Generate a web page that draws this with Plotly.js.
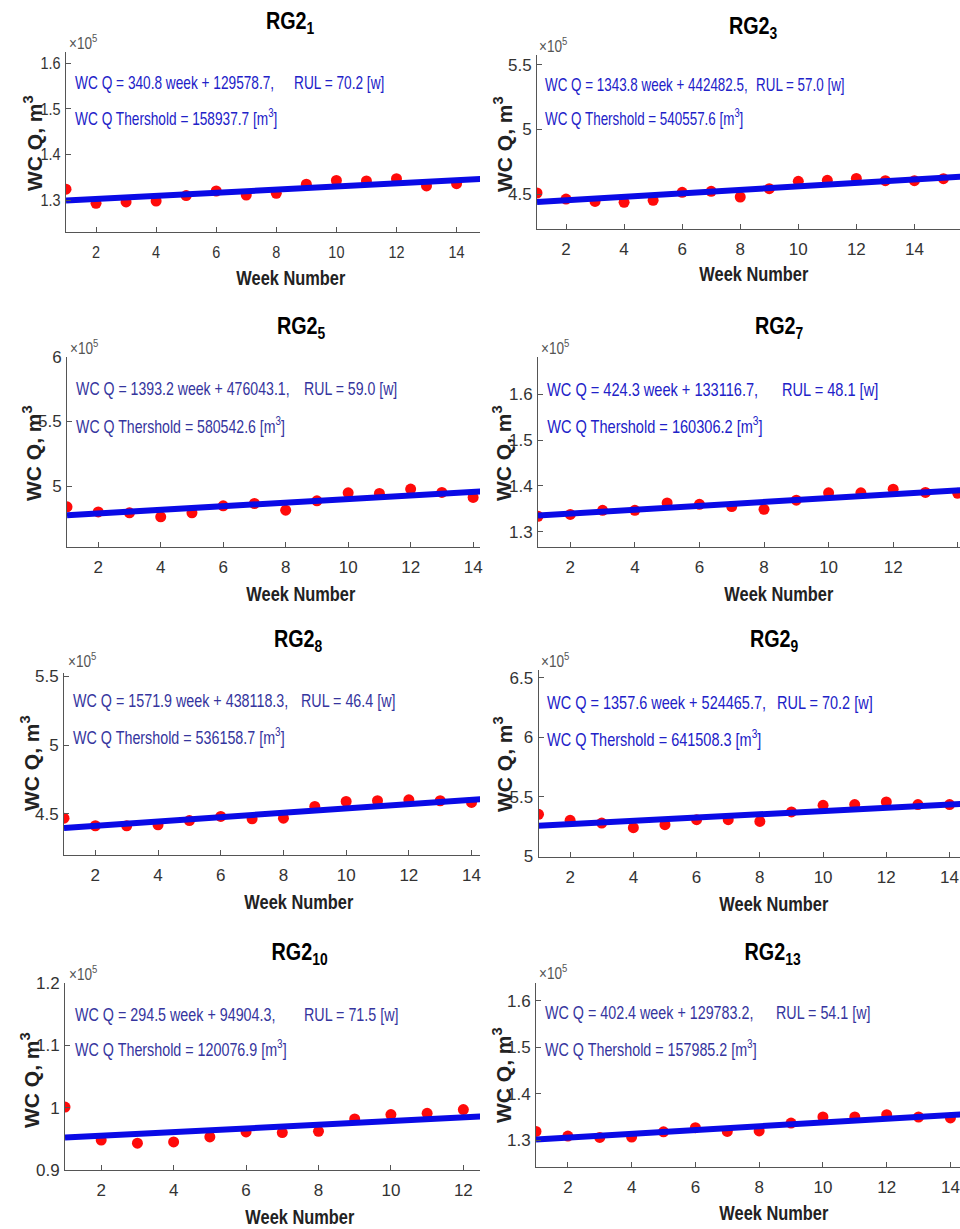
<!DOCTYPE html>
<html>
<head>
<meta charset="utf-8">
<script src="https://cdn.plot.ly/plotly-3.0.1.min.js"></script>
<style>html,body{margin:0;padding:0;background:#fff;}</style>
</head>
<body>
<div id="chart" style="width:960px;height:1229px;"></div>
<script>
// ---------------- DATA (values in units of 10^5 m^3) ----------------
const panelNames = ["1", "3", "5", "7", "8", "9", "10", "13"];
const weeks15 = [1,2,3,4,5,6,7,8,9,10,11,12,13,14,15];
const weeks14 = [1,2,3,4,5,6,7,8,9,10,11,12,13,14];
const weeks12 = [1,2,3,4,5,6,7,8,9,10,11,12];

const rg2_1  = [1.324,1.293,1.296,1.298,1.310,1.320,1.311,1.315,1.335,1.343,1.342,1.347,1.331,1.336];
const rg2_3  = [4.508,4.461,4.443,4.436,4.451,4.513,4.521,4.477,4.541,4.598,4.606,4.621,4.603,4.603,4.619];
const rg2_5  = [4.839,4.800,4.793,4.762,4.793,4.847,4.865,4.813,4.886,4.948,4.943,4.977,4.951,4.912];
const rg2_7  = [1.334,1.338,1.347,1.347,1.363,1.360,1.355,1.349,1.369,1.385,1.385,1.393,1.386,1.384];
const rg2_8  = [4.468,4.413,4.413,4.420,4.451,4.481,4.464,4.468,4.553,4.590,4.595,4.602,4.595,4.583];
const rg2_9  = [5.353,5.303,5.280,5.241,5.266,5.308,5.308,5.294,5.373,5.429,5.435,5.457,5.435,5.435];
const rg2_10 = [1.001,0.948,0.943,0.945,0.953,0.961,0.960,0.962,0.982,0.989,0.991,0.997];
const rg2_13 = [1.319,1.309,1.306,1.307,1.318,1.327,1.319,1.320,1.337,1.350,1.350,1.355,1.350,1.348];

// fitted trend lines: endpoints (week 1 and week 16)
const fitWeeks = [1, 16];
const fit_1  = [1.299195, 1.350315];
const fit_3  = [4.438263, 4.639833];
const fit_5  = [4.774363, 4.983343];
const fit_7  = [1.335410, 1.399055];
const fit_8  = [4.396902, 4.632687];
const fit_9  = [5.258233, 5.461873];
const fit_10 = [0.951988, 0.996163];
const fit_13 = [1.301856, 1.362216];

const eqTexts = [
  "WC Q = 340.8 week + 129578.7,",
  "WC Q = 1343.8 week + 442482.5,",
  "WC Q = 1393.2 week + 476043.1,",
  "WC Q = 424.3 week + 133116.7,",
  "WC Q = 1571.9 week + 438118.3,",
  "WC Q = 1357.6 week + 524465.7,",
  "WC Q = 294.5 week + 94904.3,",
  "WC Q = 402.4 week + 129783.2,"
];
const rulTexts = ["RUL = 70.2 [w]","RUL = 57.0 [w]","RUL = 59.0 [w]","RUL = 48.1 [w]",
                  "RUL = 46.4 [w]","RUL = 70.2 [w]","RUL = 71.5 [w]","RUL = 54.1 [w]"];
const thresholds = ["158937.7","540557.6","580542.6","160306.2","536158.7","641508.3","120076.9","157985.2"];

const seriesX = [weeks14, weeks15, weeks14, weeks14, weeks14, weeks14, weeks12, weeks14];
const seriesY = [rg2_1, rg2_3, rg2_5, rg2_7, rg2_8, rg2_9, rg2_10, rg2_13];
const fitsY   = [fit_1, fit_3, fit_5, fit_7, fit_8, fit_9, fit_10, fit_13];

// ---------------- LAYOUT (pixel geometry) ----------------
const W = 960, H = 1229;
const FONT = "'Liberation Sans', Arial, Helvetica, sans-serif";
const geo = [
  {l:66,  r:480, t:52,  b:232,  xr:[1,14.78], yr:[1.23,1.625],  dt:0.1, title:[290,23],  xt:[291,277],  yt:[33,143],   mult:[67,42],   eq:[72.7,83],   rul:[292,83],   th:[72.7,117],  col:"#2121c8", sq:0.76},
  {l:537, r:960, t:55,  b:229,  xr:[1,15.57], yr:[4.229,5.577], dt:0.5, title:[753,27],  xt:[754,273],  yt:[503,144],  mult:[537,45],  eq:[542.7,85],  rul:[754,85],   th:[542.7,117], col:"#2121c8", sq:0.745},
  {l:67,  r:480, t:357, b:547,  xr:[1,14.22], yr:[4.528,6.0],   dt:0.5, title:[301,327], xt:[301,593],  yt:[32,453],   mult:[68,347],  eq:[74,389],    rul:[301.7,389],th:[74,426],    col:"#35359e", sq:0.785},
  {l:538, r:960, t:357, b:547,  xr:[1,14.07], yr:[1.267,1.681], dt:0.1, title:[779,327], xt:[779,593],  yt:[502,453],  mult:[539,347], eq:[545,390],   rul:[780,390],  th:[545,426],   col:"#2121c8", sq:0.81},
  {l:64,  r:480, t:673, b:855,  xr:[1,14.27], yr:[4.2,5.525],   dt:0.5, title:[298,640], xt:[299,901],  yt:[30,763],   mult:[66,660],  eq:[70.7,701],  rul:[299.3,701],th:[70.7,736],  col:"#35359e", sq:0.795},
  {l:538.5,r:960,t:670, b:857,  xr:[1,14.33], yr:[4.995,6.565], dt:0.5, title:[774,640], xt:[774,903],  yt:[503,764],  mult:[539,660], eq:[545,703],   rul:[775,703],  th:[545,738],   col:"#2121c8", sq:0.805},
  {l:65,  r:480, t:983, b:1170, xr:[1,12.46], yr:[0.9,1.2],     dt:0.1, title:[299,953], xt:[300,1216], yt:[30,1080],  mult:[67,973],  eq:[72.7,1015], rul:[301.7,1015],th:[72.7,1048],col:"#35359e", sq:0.795},
  {l:536, r:960, t:983, b:1167, xr:[1,14.3],  yr:[1.2425,1.638],dt:0.1, title:[772,953], xt:[774,1212], yt:[502,1075], mult:[537,972], eq:[542.7,1013],rul:[774,1013], th:[542.7,1048],col:"#35359e", sq:0.795}
];

const px = x => x / W;
const py = y => 1 - y / H;

const traces = [];
const annScale = [];   // horizontal squeeze factor per annotation (the source figure is narrow)
const layout = {
  width: W, height: H,
  margin: {l:0, r:0, t:0, b:0},
  paper_bgcolor: "#fff", plot_bgcolor: "#fff",
  showlegend: false,
  font: {family: FONT, color: "#333"},
  annotations: []
};

geo.forEach((g, i) => {
  const n = i + 1;
  const xa = "x" + (n === 1 ? "" : n), ya = "y" + (n === 1 ? "" : n);
  const xk = "xaxis" + (n === 1 ? "" : n), yk = "yaxis" + (n === 1 ? "" : n);

  traces.push({
    x: seriesX[i], y: seriesY[i], xaxis: xa, yaxis: ya,
    type: "scatter", mode: "markers",
    marker: {color: "#ff0a0a", size: 11, line: {width: 0}},
    hoverinfo: "skip"
  });
  traces.push({
    x: fitWeeks, y: fitsY[i], xaxis: xa, yaxis: ya,
    type: "scatter", mode: "lines",
    line: {color: "#0a0ae6", width: 6},
    hoverinfo: "skip"
  });

  layout[xk] = {
    domain: [px(g.l), px(g.r)], anchor: ya, range: g.xr,
    tick0: 0, dtick: 2, ticks: "inside", ticklen: 5, tickcolor: "#555",
    showline: true, linecolor: "#555", linewidth: 1,
    showgrid: false, zeroline: false, ticklabelstandoff: 5,
    tickfont: {family: FONT, size: 17, color: "#333"}
  };
  layout[yk] = {
    domain: [py(g.b), py(g.t)], anchor: xa, range: g.yr,
    tick0: 0, dtick: g.dt, ticks: "inside", ticklen: 5, tickcolor: "#555",
    showline: true, linecolor: "#555", linewidth: 1,
    showgrid: false, zeroline: false, ticklabelstandoff: 1,
    tickfont: {family: FONT, size: 17, color: "#333"}
  };

  const A = layout.annotations;
  const base = {xref: "paper", yref: "paper", showarrow: false};
  const add = (o, s) => { A.push(Object.assign({}, base, o)); annScale.push(s); };
  add({x: px(g.title[0]), y: py(g.title[1]), xanchor: "center", yanchor: "middle",
    text: "<b>RG2<sub>" + panelNames[i] + "</sub></b>", font: {family: FONT, size: 23, color: "#000"}}, 0.86);
  add({x: px(g.xt[0]), y: py(g.xt[1]), xanchor: "center", yanchor: "middle",
    text: "<b>Week Number</b>", font: {family: FONT, size: 21, color: "#222"}}, 0.78);
  add({x: px(g.yt[0]), y: py(g.yt[1]), xanchor: "center", yanchor: "middle", textangle: -90,
    text: "<b>WC Q, m<sup>3</sup></b>", font: {family: FONT, size: 21, color: "#222"}}, 1);
  add({x: px(g.mult[0]), y: py(g.mult[1]), xanchor: "left", yanchor: "middle",
    text: "×10<sup>5</sup>", font: {family: FONT, size: 16, color: "#555"}}, 0.85);
  add({x: px(g.eq[0]), y: py(g.eq[1]), xanchor: "left", yanchor: "middle",
    text: eqTexts[i], font: {family: FONT, size: 18, color: g.col}}, g.sq);
  add({x: px(g.rul[0]), y: py(g.rul[1]), xanchor: "left", yanchor: "middle",
    text: rulTexts[i], font: {family: FONT, size: 18, color: g.col}}, g.sq);
  add({x: px(g.th[0]), y: py(g.th[1]), xanchor: "left", yanchor: "middle",
    text: "WC Q Thershold = " + thresholds[i] + " [m<sup>3</sup>]", font: {family: FONT, size: 18, color: g.col}}, g.sq);
});

function squeeze(el, s, anchor) {
  if (!el || s === 1) return;
  const bb = el.getBBox();
  const cx = anchor === "left" ? bb.x : anchor === "right" ? bb.x + bb.width : bb.x + bb.width / 2;
  const prev = el.getAttribute("transform") || "";
  el.setAttribute("transform", (prev + " translate(" + cx + ",0) scale(" + s + ",1) translate(" + (-cx) + ",0)").trim());
}

Plotly.newPlot("chart", traces, layout, {staticPlot: true, displayModeBar: false}).then(gd => {
  gd.querySelectorAll("g.annotation").forEach(g => {
    const idx = +g.getAttribute("data-index");
    squeeze(g.querySelector("text.annotation-text"), annScale[idx], layout.annotations[idx].xanchor);
  });
  gd.querySelectorAll("g.xtick text").forEach(t => squeeze(t, 0.85, "center"));
  gd.querySelectorAll("g.ytick text").forEach(t => squeeze(t, 0.85, "right"));
});
</script>
</body>
</html>
